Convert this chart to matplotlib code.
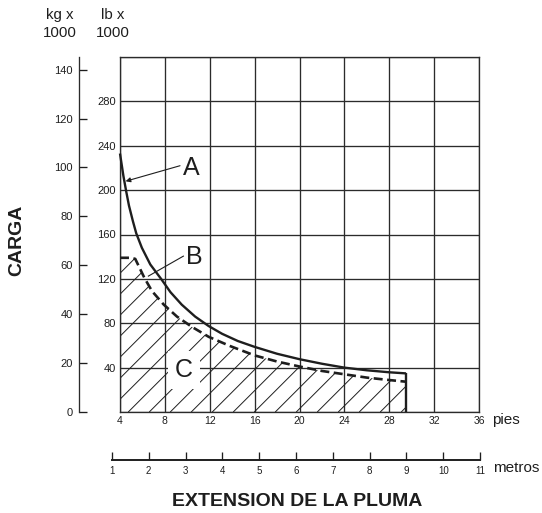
import numpy as np
import matplotlib
matplotlib.use("Agg")
import matplotlib.pyplot as plt
from matplotlib.patches import Polygon

plt.rcParams['font.family'] = ['Liberation Sans', 'DejaVu Sans']

# ---------------- data ----------------
ft_ticks = [4, 8, 12, 16, 20, 24, 28, 32, 36]
lb_grid = [0, 40, 80, 120, 160, 200, 240, 280, 320]
lb_labels = [40, 80, 120, 160, 200, 240, 280]
kg_ticks = [0, 20, 40, 60, 80, 100, 120, 140]
m_ticks = [1, 2, 3, 4, 5, 6, 7, 8, 9, 10, 11]

# Curve A (solid), boom extension in ft vs load in lb x 1000
a_ft = [4.0, 4.3, 4.55, 4.8, 5.15, 5.45, 5.95, 6.7, 7.7, 8.5, 9.5, 10.7,
        11.9, 13.1, 14.5, 16.0, 18.0, 20.0, 22.0, 24.0, 26.0, 28.0, 29.5]
a_lb = [233, 213, 199, 186, 172, 161, 148, 133, 119.5, 108, 96.8, 86,
        77.5, 70.5, 64, 58.7, 52.5, 47.6, 43.5, 40.0, 37.6, 35.8, 34.8]

# Curve B (dashed)
b_ft = [4.0, 5.0, 5.36, 5.67, 6.17, 6.85, 7.9, 9.08, 10.4, 11.9, 13.8,
        16.0, 18.0, 20.0, 22.0, 24.0, 26.0, 28.0, 29.5]
b_lb = [139, 139, 138, 131.5, 121, 109, 96.8, 86, 76.8, 67.8, 59.5,
        51, 45.5, 41, 37, 34, 31, 28.8, 27.3]

LB_PER_KG = 2.20462
FT_PER_M = 3.28084

# ---------------- figure ----------------
W, H = 542, 513
fig = plt.figure(figsize=(W / 100, H / 100), dpi=100)
L, R, BOT, TOP = 120 / W, 479 / W, (H - 412) / H, (H - 57) / H
ax = fig.add_axes([L, BOT, R - L, TOP - BOT])
ax.set_xlim(ft_ticks[0], ft_ticks[-1])
ax.set_ylim(lb_grid[0], lb_grid[-1])

ink = '#1e1e1e'
gridc = '#2b2b2b'

ax.set_xticks(ft_ticks)
ax.set_xticklabels([str(v) for v in ft_ticks])
ax.set_yticks(lb_grid)
ax.set_yticklabels([str(v) if v in lb_labels else '' for v in lb_grid])
ax.tick_params(axis='x', length=0, pad=3, labelsize=7.5, colors=ink)
ax.tick_params(axis='y', length=0, pad=3, labelsize=8, colors=ink)
ax.grid(True, color=gridc, lw=0.95, zorder=1)
ax.set_axisbelow(True)
for s in ax.spines.values():
    s.set_color(gridc)
    s.set_linewidth(0.95)

# kg axis
sec = ax.secondary_yaxis(-41 / 359, functions=(lambda lb: np.asarray(lb) / LB_PER_KG,
                                               lambda kg: np.asarray(kg) * LB_PER_KG))
sec.set_yticks(kg_ticks)
sec.tick_params(direction='in', length=5.8, width=0.95, pad=4.3, labelsize=8,
                colors=ink)
sec.spines['left'].set_linewidth(0.95)
sec.spines['left'].set_color(gridc)

# ---------------- hatch region C ----------------
verts = list(zip(b_ft, b_lb)) + [(b_ft[-1], 0), (b_ft[0], 0)]
clip = Polygon(verts, closed=True, facecolor='none', edgecolor='none',
               transform=ax.transData)
ax.add_patch(clip)
px_ft = ax.bbox.width / (ft_ticks[-1] - ft_ticks[0])
px_lb = ax.bbox.height / (lb_grid[-1] - lb_grid[0])
slope = px_ft / px_lb           # 45 degrees on screen
step = 21 / px_ft
top = max(b_lb) + 5
x0 = b_ft[0] - top / slope
while x0 < b_ft[-1]:
    ln, = ax.plot([x0, x0 + top / slope], [0, top], color=ink, lw=0.7,
                  zorder=1.5, solid_capstyle='butt')
    ln.set_clip_path(clip)
    x0 += step

# ---------------- curves ----------------
ax.plot(b_ft, b_lb, color=ink, lw=1.9, dashes=(3.4, 1.7), zorder=3,
        clip_on=False)
ax.plot(a_ft, a_lb, color=ink, lw=1.7, zorder=3, clip_on=False,
        solid_capstyle='butt')
ax.plot([a_ft[-1], a_ft[-1]], [a_lb[-1], 0], color=ink, lw=1.7, zorder=3,
        solid_capstyle='butt')

# ---------------- labels A, B, C ----------------
ax.annotate('', xy=(4.5, 208), xytext=(9.35, 222),
            arrowprops=dict(arrowstyle='-|>', lw=0.8, color=ink,
                            mutation_scale=7, shrinkA=0, shrinkB=0), zorder=4)
ax.text(10.35, 213.9, 'A', fontsize=18, ha='center', va='baseline', color=ink,
        zorder=5)
ax.plot([9.65, 6.53], [140.5, 122.5], color=ink, lw=0.8, zorder=4)
ax.text(10.6, 133.2, 'B', fontsize=18, ha='center', va='baseline', color=ink,
        zorder=5)
ax.text(9.7, 31.2, 'C', fontsize=18, ha='center', va='baseline', color=ink,
        zorder=5, bbox=dict(boxstyle='square,pad=0.28', fc='white', ec='none'))

# ---------------- metros axis ----------------
m_lo, m_hi = 0.9, 11.1
xl = L + (m_lo * FT_PER_M - ft_ticks[0]) / (ft_ticks[-1] - ft_ticks[0]) * (R - L)
xr = L + (m_hi * FT_PER_M - ft_ticks[0]) / (ft_ticks[-1] - ft_ticks[0]) * (R - L)
axm = fig.add_axes([xl, (H - 460) / H, xr - xl, 0.001])
axm.set_xlim(m_lo, m_hi)
axm.set_yticks([])
for s in ['left', 'right', 'top']:
    axm.spines[s].set_visible(False)
axm.spines['bottom'].set_bounds(m_ticks[0], m_ticks[-1])
axm.spines['bottom'].set_linewidth(1.4)
axm.spines['bottom'].set_color(ink)
axm.set_xticks(m_ticks)
axm.tick_params(axis='x', direction='in', length=5.8, width=0.95, pad=4,
                labelsize=7, colors=ink)
axm.patch.set_visible(False)

# ---------------- figure texts ----------------
fig.text(492 / W, 1 - 420 / H, 'pies', fontsize=11, ha='left', va='center', color=ink)
fig.text(493 / W, 1 - 468 / H, 'metros', fontsize=11, ha='left', va='center', color=ink)
fig.text(59.5 / W, 1 - 15 / H, 'kg x', fontsize=10.8, ha='center', va='center', color=ink)
fig.text(59.5 / W, 1 - 32.7 / H, '1000', fontsize=10.8, ha='center', va='center', color=ink)
fig.text(113 / W, 1 - 15 / H, 'lb x', fontsize=10.8, ha='center', va='center', color=ink)
fig.text(113 / W, 1 - 32.7 / H, '1000', fontsize=10.8, ha='center', va='center', color=ink)
fig.text(17 / W, 1 - 240 / H, 'CARGA', fontsize=14, fontweight='bold', rotation=90,
         ha='center', va='center', color=ink)
fig.text(297 / W, 1 - 502 / H, 'EXTENSION DE LA PLUMA', fontsize=14,
         fontweight='bold', ha='center', va='center', color=ink)

fig.savefig('out.png', dpi=100)
